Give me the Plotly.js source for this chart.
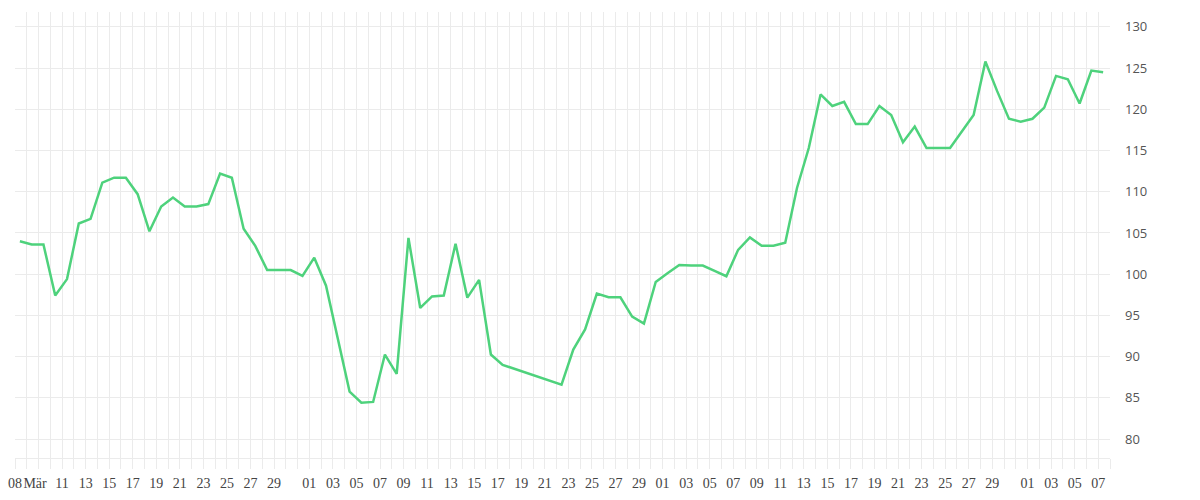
<!DOCTYPE html>
<html>
<head>
<meta charset="utf-8">
<script src="https://cdn.plot.ly/plotly-3.0.1.min.js"></script>
<style>
  html, body { margin: 0; padding: 0; background: #fff; }
  #chart { width: 1200px; height: 500px; }
</style>
</head>
<body>
<div id="chart"></div>
<script>
// ---- data ----
var dates = [
  '2021-03-07','2021-03-08','2021-03-09','2021-03-10','2021-03-11','2021-03-12','2021-03-13','2021-03-14',
  '2021-03-15','2021-03-16','2021-03-17','2021-03-18','2021-03-19','2021-03-20','2021-03-21','2021-03-22',
  '2021-03-23','2021-03-24','2021-03-25','2021-03-26','2021-03-27','2021-03-28','2021-03-29','2021-03-30',
  '2021-03-31','2021-04-01','2021-04-02','2021-04-03','2021-04-04','2021-04-05','2021-04-06','2021-04-07',
  '2021-04-08','2021-04-09','2021-04-10','2021-04-11','2021-04-12','2021-04-13','2021-04-14','2021-04-15',
  '2021-04-16','2021-04-17','2021-04-22','2021-04-23','2021-04-24','2021-04-25','2021-04-26','2021-04-27',
  '2021-04-28','2021-04-29','2021-04-30','2021-05-01','2021-05-02','2021-05-03','2021-05-04','2021-05-05',
  '2021-05-06','2021-05-07','2021-05-08','2021-05-09','2021-05-10','2021-05-11','2021-05-12','2021-05-13',
  '2021-05-14','2021-05-15','2021-05-16','2021-05-17','2021-05-18','2021-05-19','2021-05-20','2021-05-21',
  '2021-05-22','2021-05-23','2021-05-24','2021-05-25','2021-05-27','2021-05-28','2021-05-29','2021-05-30',
  '2021-05-31','2021-06-01','2021-06-02','2021-06-03','2021-06-04','2021-06-05','2021-06-06','2021-06-07'
];
var values = [
  104.0, 103.6, 103.6, 97.4, 99.4, 106.15, 106.7, 111.1,
  111.7, 111.7, 109.7, 105.2, 108.2, 109.3, 108.2, 108.2,
  108.5, 112.2, 111.7, 105.5, 103.4, 100.5, 100.5, 100.5,
  99.8, 102.0, 98.6, 92.3, 85.75, 84.4, 84.5, 90.25,
  87.9, 104.4, 95.9, 97.3, 97.4, 103.7, 97.15, 99.3,
  90.25, 89.0, 86.6, 90.85, 93.3, 97.65, 97.2, 97.2,
  94.85, 94.0, 99.05, 100.1, 101.1, 101.05, 101.05, 100.4,
  99.75, 102.95, 104.45, 103.45, 103.45, 103.8, 110.45, 115.3,
  121.8, 120.4, 120.9, 118.2, 118.2, 120.4, 119.3, 116.0,
  117.9, 115.3, 115.3, 115.3, 119.3, 125.8, 122.2, 118.85,
  118.5, 118.85, 120.2, 124.05, 123.65, 120.7, 124.7, 124.5
];
// tick labels (gridline dates and their texts)
var tickDates = [
  '2021-03-07','2021-03-09','2021-03-11','2021-03-13','2021-03-15','2021-03-17','2021-03-19','2021-03-21',
  '2021-03-23','2021-03-25','2021-03-27','2021-03-29','2021-04-01','2021-04-03','2021-04-05','2021-04-07',
  '2021-04-09','2021-04-11','2021-04-13','2021-04-15','2021-04-17','2021-04-19','2021-04-21','2021-04-23',
  '2021-04-25','2021-04-27','2021-04-29','2021-05-01','2021-05-03','2021-05-05','2021-05-07','2021-05-09',
  '2021-05-11','2021-05-13','2021-05-15','2021-05-17','2021-05-19','2021-05-21','2021-05-23','2021-05-25',
  '2021-05-27','2021-05-29','2021-06-01','2021-06-03','2021-06-05','2021-06-07'
];
var tickTexts = [
  '08','Mär','11','13','15','17','19','21',
  '23','25','27','29','01','03','05','07',
  '09','11','13','15','17','19','21','23',
  '25','27','29','01','03','05','07','09',
  '11','13','15','17','19','21','23','25',
  '27','29','01','03','05','07'
];
var yTicks = [80, 85, 90, 95, 100, 105, 110, 115, 120, 125, 130];

// ---- build ----
var DAY = 86400000;
var HOUR = 3600000;
function toMs(s) { return Date.parse(s + 'T00:00:00Z'); }
function msToStr(ms) {
  var d = new Date(ms);
  function p(n) { return (n < 10 ? '0' : '') + n; }
  return d.getUTCFullYear() + '-' + p(d.getUTCMonth() + 1) + '-' + p(d.getUTCDate()) + ' ' +
         p(d.getUTCHours()) + ':' + p(d.getUTCMinutes());
}
// points sit a little after the daily gridline
var xs = dates.map(function (d) { return msToStr(toMs(d) + 10 * HOUR); });

var rangeStart = '2021-03-07', rangeEnd = '2021-06-08';
var labelMap = {};
tickDates.forEach(function (d, i) { labelMap[d] = tickTexts[i]; });
var tv = [], tt = [];
for (var t = toMs(rangeStart); t <= toMs(rangeEnd); t += DAY) {
  var key = new Date(t).toISOString().slice(0, 10);
  tv.push(key);
  var lab = labelMap[key] !== undefined ? labelMap[key] : '';
  // month name label sits snug against the first label
  if (lab === 'Mär') lab = 'Mär\u00a0\u00a0';
  tt.push(lab);
}

var trace = {
  x: xs, y: values, type: 'scatter', mode: 'lines',
  line: { color: 'rgb(78,210,124)', width: 2.5 },
  hoverinfo: 'x+y'
};

var layout = {
  width: 1200, height: 500,
  margin: { l: 15, r: 90, t: 12, b: 42 },
  paper_bgcolor: '#fff', plot_bgcolor: '#fff',
  showlegend: false,
  xaxis: {
    type: 'date',
    range: [rangeStart, rangeEnd],
    tickmode: 'array', tickvals: tv, ticktext: tt,
    ticks: 'outside', ticklen: 10, tickcolor: '#ebebeb', tickwidth: 1,
    showgrid: true, gridcolor: '#ebebeb', gridwidth: 1,
    showline: true, linecolor: '#ebebeb', linewidth: 1,
    zeroline: false,
    tickangle: 0,
    ticklabelstandoff: 2,
    tickfont: { family: 'Liberation Serif, serif', size: 14, color: '#444' }
  },
  yaxis: {
    side: 'right',
    range: [77.7, 131.8],
    tickmode: 'array', tickvals: yTicks, ticktext: yTicks.map(String),
    ticks: '', showgrid: true, gridcolor: '#ebebeb', gridwidth: 1,
    showline: false, zeroline: false,
    ticklabelstandoff: 14,
    tickfont: { family: 'Open Sans, sans-serif', size: 13, color: '#555' }
  }
};

Plotly.newPlot('chart', [trace], layout, { displayModeBar: false, staticPlot: true });
</script>
</body>
</html>
